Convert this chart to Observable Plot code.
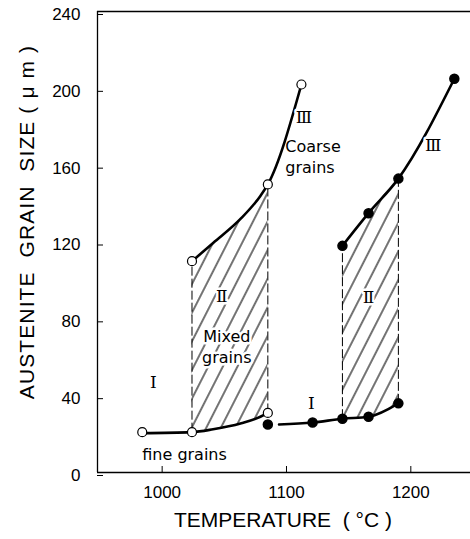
<!DOCTYPE html>
<html><head><meta charset="utf-8">
<script src="https://cdn.jsdelivr.net/npm/d3@7"></script>
<script src="https://cdn.jsdelivr.net/npm/@observablehq/plot@0.6"></script>
<style>body{margin:0;background:#fff} svg{display:block}</style>
</head><body><div id="chart"></div>
<script>
// Marker positions (temperature °C, grain size µm)
const openDotT = [984, 1024, 1085, 1024, 1085, 1112];
const openDotD = [21, 21, 31, 110, 150, 202];
const fillDotT = [1085, 1121, 1145, 1166, 1190, 1145, 1166, 1190, 1235];
const fillDotD = [25, 26, 28, 29, 36, 118, 135, 153, 205];

// Curve traces
const openLowT = [984, 1024, 1041, 1063, 1079, 1085];
const openLowD = [20.5, 21, 22.5, 25.5, 29, 31];
const openHighT = [1024, 1041, 1063, 1079, 1085, 1112];
const openHighD = [110, 119.5, 132, 144, 150, 202];
const fillLowT = [1094, 1121, 1145, 1166, 1190];
const fillLowD = [25, 26, 28, 29, 36];
const fillHighT = [1145, 1166, 1190, 1235];
const fillHighD = [118, 135, 153, 205];

// Mixed-grain (II) bands: temperature limits
const bandA = [1024, 1085];
const bandB = [1145, 1190];

const xTicks = [1000, 1100, 1200];
const yTicks = [0, 40, 80, 120, 160, 200, 240];

const romans = [
  {t: 993, d: 47, s: "Ⅰ"},
  {t: 1048, d: 91.5, s: "Ⅱ"},
  {t: 1114, d: 185, s: "Ⅲ"},
  {t: 1120, d: 36, s: "Ⅰ"},
  {t: 1166, d: 91, s: "Ⅱ"},
  {t: 1218, d: 170, s: "Ⅲ"}
];
const centeredWords = [
  {t: 1052, d: 66, s: "Mixed\ngrains"},
  {t: 1018, d: 10, s: "fine grains"}
];
const leftWords = [
  {t: 1099, d: 165, s: "Coarse\ngrains"}
];
const yTitle = "AUSTENITE  GRAIN  SIZE ( μ m )";
const xTitle = "TEMPERATURE  ( °C )";

const pts = (T, D) => T.map((t, i) => ({t, d: D[i]}));
function band(lim, lowT, lowD, highT, highD) {
  const hi = new Map(highT.map((t, i) => [t, highD[i]]));
  return lowT.map((t, i) => ({t, lo: lowD[i], hi: hi.get(t)}))
    .filter(p => p.t >= lim[0] && p.t <= lim[1] && p.hi !== undefined);
}
const regA = band(bandA, openLowT, openLowD, openHighT, openHighD);
const regB = band(bandB, fillLowT, fillLowD, fillHighT, fillHighD);
const edges = [regA[0], regA[regA.length-1], regB[0], regB[regB.length-1]];

const FONT = "'Liberation Sans', Arial, sans-serif";
const curve = "monotone-x";
const halo = {stroke: "#fff", strokeWidth: 5, fill: "#000"};

const plot = Plot.plot({
  width: 470, height: 539,
  marginLeft: 97, marginRight: 0, marginTop: 11, marginBottom: 67,
  style: {fontFamily: FONT, background: "#fff", color: "#000"},
  x: {domain: [948, 1248]},
  y: {domain: [0, 240]},
  marks: [
    Plot.areaY(regA, {x: "t", y1: "lo", y2: "hi", curve, fill: "url(#hatch)"}),
    Plot.areaY(regB, {x: "t", y1: "lo", y2: "hi", curve, fill: "url(#hatch)"}),
    Plot.ruleX(edges, {x: "t", y1: "lo", y2: "hi", stroke: "#000", strokeWidth: 1, strokeDasharray: "9,3"}),
    Plot.line(pts(openLowT, openLowD), {x: "t", y: "d", curve, strokeWidth: 2.6}),
    Plot.line(pts(openHighT, openHighD), {x: "t", y: "d", curve, strokeWidth: 2.6}),
    Plot.line(pts(fillLowT, fillLowD), {x: "t", y: "d", curve, strokeWidth: 2.6}),
    Plot.line(pts(fillHighT, fillHighD), {x: "t", y: "d", curve, strokeWidth: 2.6}),
    Plot.dot(pts(openDotT, openDotD), {x: "t", y: "d", r: 4.5, fill: "#fff", stroke: "#000", strokeWidth: 1.2}),
    Plot.dot(pts(fillDotT, fillDotD), {x: "t", y: "d", r: 4.5, fill: "#000", stroke: "#000"}),
    Plot.text(romans, {x: "t", y: "d", text: "s", fontSize: 17, fontFamily: "'DejaVu Serif', serif", ...halo}),
    Plot.text(centeredWords, {x: "t", y: "d", text: "s", fontSize: 16, lineHeight: 1.3, fontFamily: "'DejaVu Sans', sans-serif", ...halo}),
    Plot.text(leftWords, {x: "t", y: "d", text: "s", textAnchor: "start", fontSize: 16, lineHeight: 1.3, fontFamily: "'DejaVu Sans', sans-serif", fill: "#000"}),
    Plot.ruleY([0, 240], {strokeWidth: 1.3}),
    Plot.ruleX([948], {strokeWidth: 1.3}),
    Plot.axisX({ticks: xTicks, tickSize: -6, tickPadding: 19, fontSize: 17, label: null, tickFormat: d => String(d)}),
    Plot.axisY({ticks: yTicks, tickSize: -6, tickPadding: 23, fontSize: 17, label: null, dy: 3}),
    Plot.text([yTitle], {frameAnchor: "left", textAnchor: "middle", dx: -70, dy: -20, rotate: -90, fontSize: 21}),
    Plot.text([xTitle], {frameAnchor: "bottom", textAnchor: "middle", dx: -1, dy: 54, fontSize: 21})
  ]
});

const svg = d3.select(plot);
svg.selectAll("text").filter(function() { return this.textContent === yTitle; })
  .attr("letter-spacing", 1.1);
const defs = svg.insert("defs", ":first-child");
const pat = defs.append("pattern").attr("id", "hatch").attr("patternUnits", "userSpaceOnUse")
  .attr("width", 13).attr("height", 13).attr("patternTransform", "rotate(27)");
pat.append("line").attr("x1", 1).attr("y1", 0).attr("x2", 1).attr("y2", 13)
  .attr("stroke", "#000").attr("stroke-width", 1.1);
document.getElementById("chart").appendChild(plot);
</script>
</body></html>
